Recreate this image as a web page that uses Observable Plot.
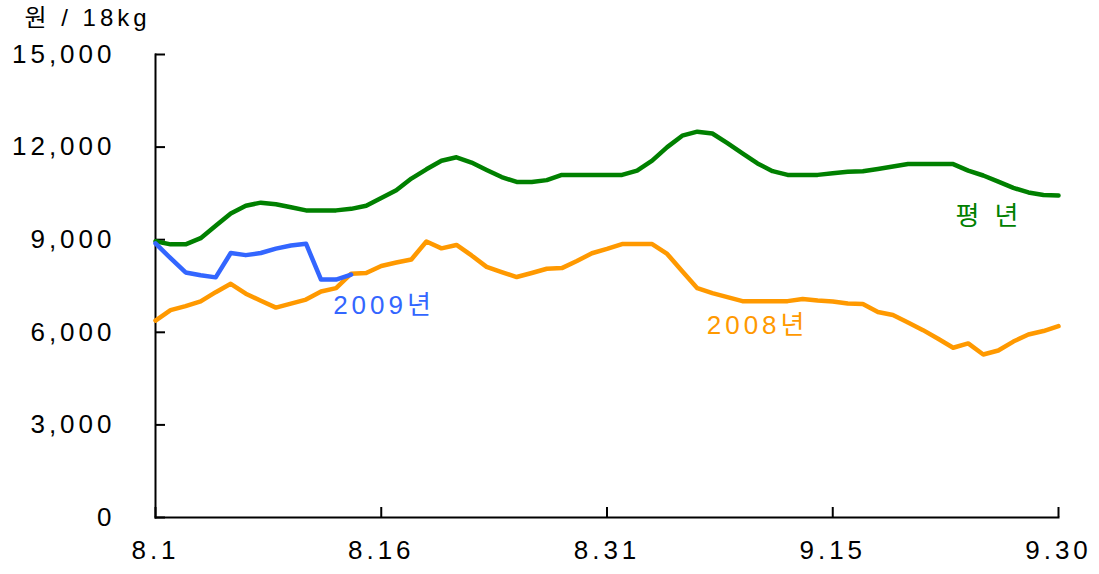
<!DOCTYPE html>
<html><head><meta charset="utf-8">
<script src="https://cdn.jsdelivr.net/npm/d3@7"></script>
<script src="https://cdn.jsdelivr.net/npm/@observablehq/plot@0.6"></script>
<style>body{margin:0;background:#fff}</style>
</head><body><div id="chart"></div>
<script>
const tickDays = [0, 15, 30, 45, 60];
const tickLabels = ["8.1", "8.16", "8.31", "9.15", "9.30"];
const yTicks = [0, 3000, 6000, 9000, 12000, 15000];
const seriesNames = ["평 년", "2008년", "2009년"];
const seriesColors = ["#008000", "#ff9900", "#3366ff"];
const normalYear = [8950,8850,8850,9050,9450,9850,10100,10200,10150,10050,9950,9950,9950,10000,10100,10350,10600,10980,11280,11560,11670,11500,11260,11030,10870,10870,10930,11100,11100,11100,11100,11100,11240,11560,12000,12370,12500,12440,12130,11800,11470,11220,11100,11100,11100,11150,11200,11220,11290,11370,11450,11450,11450,11450,11240,11080,10880,10680,10530,10450,10430];
const year2008 = [6380,6720,6850,7000,7300,7570,7250,7020,6800,6930,7060,7320,7430,7900,7920,8150,8260,8360,8940,8720,8830,8490,8120,7950,7790,7920,8060,8080,8310,8560,8700,8860,8860,8860,8540,7980,7430,7270,7140,7010,7010,7010,7010,7080,7030,7000,6930,6920,6660,6560,6320,6070,5790,5500,5640,5280,5410,5700,5930,6040,6200];
const year2009 = [8880,8400,7940,7850,7780,8570,8500,8570,8710,8810,8870,7710,7710,7870];
const unitLabel = "원 / 18kg";

const toRows = (arr, name) => arr.map((v, i) => ({day: i, value: v, series: name}));
const rows = [
  ...toRows(year2008, seriesNames[1]),
  ...toRows(normalYear, seriesNames[0]),
  ...toRows(year2009, seriesNames[2])
];
const bySeries = name => rows.filter(r => r.series === name);
const font = "'Liberation Sans', 'Noto Sans CJK KR', sans-serif";

const chart = Plot.plot({
  width: 1099,
  height: 574,
  marginTop: 54,
  marginBottom: 57,
  marginLeft: 155,
  marginRight: 41,
  style: {fontFamily: font, fontSize: "26px", letterSpacing: "4px", color: "#000", background: "#fff"},
  x: {domain: [0, 60]},
  y: {domain: [0, 15000]},
  color: {domain: seriesNames, range: seriesColors},
  marks: [
    Plot.axisY({ticks: yTicks, tickSize: -10, tickPadding: 50, strokeWidth: 2, tickFormat: d3.format(","), fontSize: 26, label: null}),
    Plot.axisX({ticks: tickDays, tickSize: -10, tickPadding: 33, strokeWidth: 2, tickFormat: d => tickLabels[tickDays.indexOf(d)], fontSize: 26, label: null}),
    Plot.frame({anchor: "left", strokeWidth: 2}),
    Plot.frame({anchor: "bottom", strokeWidth: 2}),
    Plot.line(rows, {x: "day", y: "value", z: "series", stroke: "series", strokeWidth: 4.5, strokeLinejoin: "round"}),
    Plot.text(bySeries(seriesNames[2]), Plot.selectLast({x: "day", y: "value", text: "series", fill: "series", textAnchor: "start", dx: -18, dy: 31, fontSize: 26})),
    Plot.text(bySeries(seriesNames[1]), Plot.selectLast({x: "day", y: "value", text: "series", fill: "series", textAnchor: "end", dx: -250, dy: 0, fontSize: 26})),
    Plot.text(bySeries(seriesNames[0]), Plot.selectLast({x: "day", y: "value", text: "series", fill: "series", textAnchor: "end", dx: -36, dy: 21, fontSize: 26})),
    Plot.text([unitLabel], {frameAnchor: "top-left", text: d => d, textAnchor: "start", lineAnchor: "top", dx: -131, dy: -46, fontSize: 24})
  ]
});
document.getElementById("chart").appendChild(chart);
</script>
</body></html>
